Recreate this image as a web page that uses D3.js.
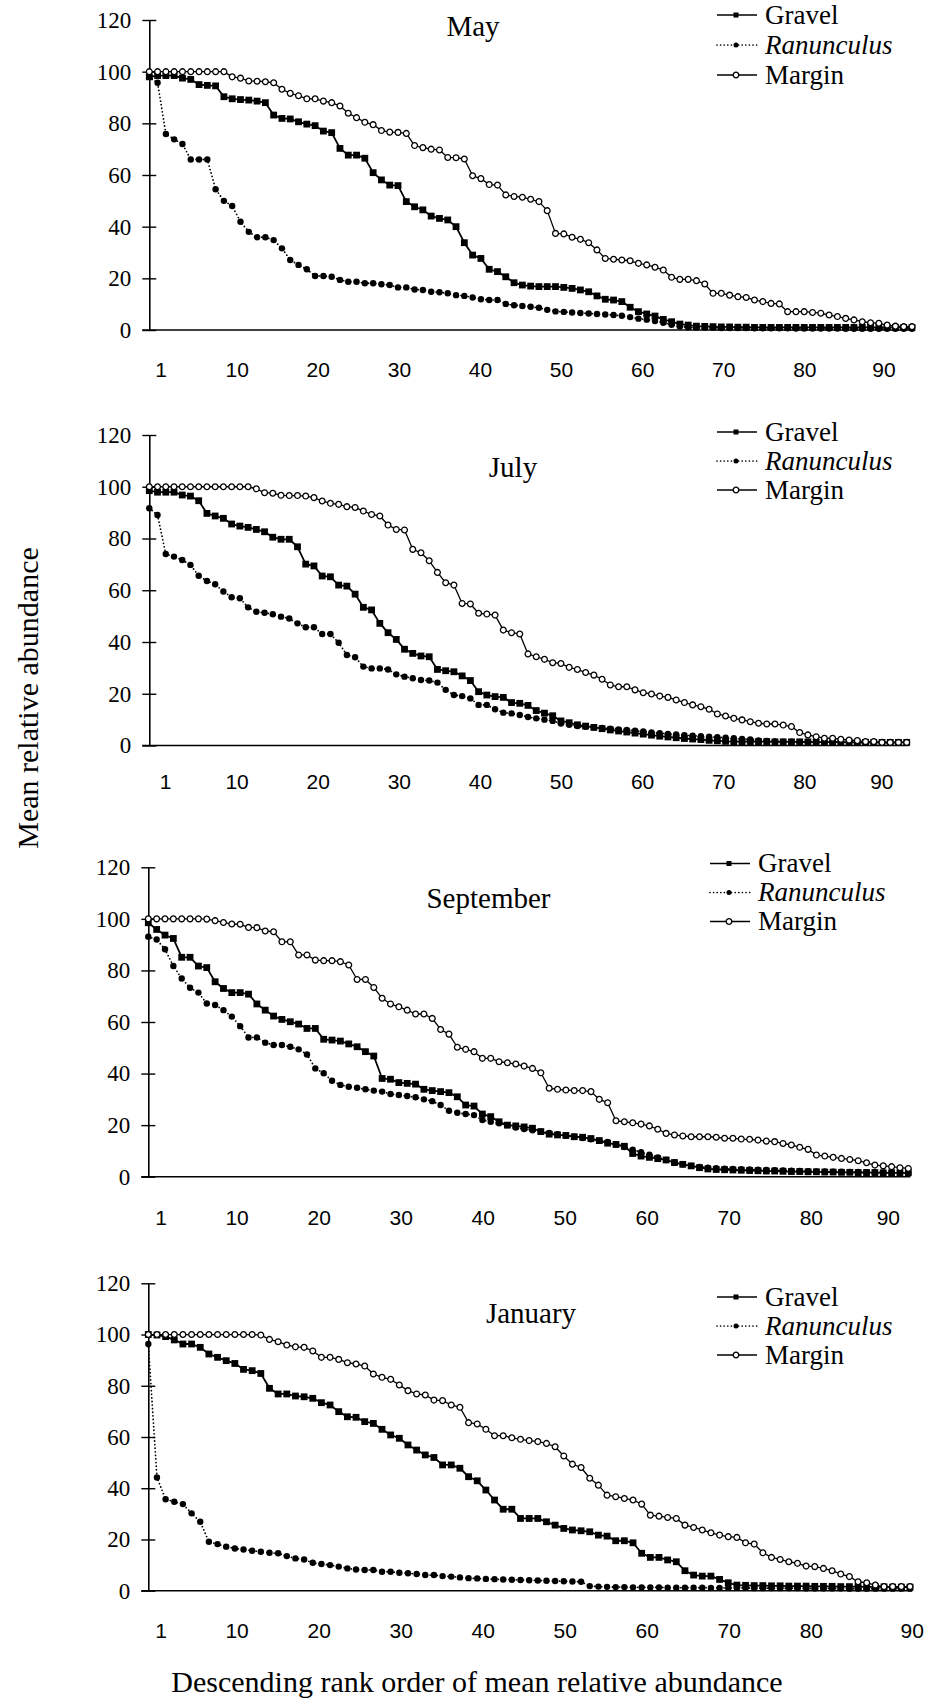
<!DOCTYPE html>
<html>
<head>
<meta charset="utf-8">
<script src="https://cdn.jsdelivr.net/npm/d3@7"></script>
<style>
  html, body { margin: 0; padding: 0; background: #fff; }
  svg { display: block; }
</style>
</head>
<body>
<svg id="chart" width="928" height="1701"></svg>
<script>
// ---- data: mean relative abundance by descending rank, per month and habitat ----
const months = ["May", "July", "September", "January"];
const seriesNames = ["Gravel", "Ranunculus", "Margin"];
const yTicks = [0, 20, 40, 60, 80, 100, 120];
const xTickLabels = [1, 10, 20, 30, 40, 50, 60, 70, 80, 90];

const mayGravel = [98, 98.5, 98.5, 98.5, 97.5, 97, 95, 94.7, 94.5, 90.3, 89.5, 89.2, 89, 88.6, 88, 83.2, 81.9, 81.7, 80.6, 79.7,
  79.1, 77, 76.4, 70.3, 67.7, 67.7, 66.5, 60.9, 58.1, 56.1, 55.9, 49.7, 47.7, 46.5, 44.1, 43.2, 42.6, 40, 33.8, 29,
  27.7, 23.5, 22.6, 20.6, 18.3, 17.4, 17, 16.8, 16.8, 16.8, 16.5, 16.1, 15.5, 14.8, 13.2, 11.9, 11.6, 11, 8.8, 7.1,
  6.2, 5.4, 4.1, 3.2, 2.3, 1.9, 1.5, 1.4, 1.3, 1.2, 1.2, 1.1, 1.1, 1, 1, 1, 1, 1, 1, 1,
  1, 1, 1, 1, 1, 1, 1, 1, 1, 1, 1, 1, 1];
const mayRanunculus = [98, 95.7, 75.9, 73.8, 72, 66, 66, 66, 54.5, 50, 48, 41.9, 38, 35.9, 35.9, 34.8, 31.6, 27.1, 25.2, 23.5,
  20.9, 20.9, 20.6, 19.4, 18.7, 18.7, 18.1, 18.1, 17.7, 17.4, 16.5, 16.5, 15.7, 15.5, 14.8, 14.6, 14.2, 13.5, 13.2, 12.6,
  11.9, 11.6, 11.6, 10.1, 9.6, 9.3, 9, 8.6, 7.8, 7.2, 7, 6.8, 6.6, 6.4, 6.2, 6, 5.8, 5.5, 5, 4.4,
  4, 3.5, 2.8, 2, 1.4, 1, 0.9, 0.9, 0.9, 0.8, 0.8, 0.8, 0.8, 0.7, 0.7, 0.7, 0.7, 0.7, 0.6, 0.6,
  0.6, 0.6, 0.6, 0.6, 0.5, 0.5, 0.5, 0.5, 0.5, 0.5, 0.5, 0.5, 0.5];
const mayMargin = [100, 100, 100, 100, 100, 100, 100, 100, 100, 100, 98, 97.5, 96.4, 96.3, 96.1, 95.7, 93.2, 91.6, 90.7, 89.5,
  89.5, 88.6, 88, 86.7, 83.9, 82.2, 80.4, 79.5, 77.2, 76.6, 76.5, 76.1, 71.4, 70.6, 70, 69.7, 66.8, 66.7, 66.2, 59.7,
  58.6, 56.3, 56.1, 52.3, 51.7, 51.4, 50.6, 49.7, 46.2, 37.4, 37.2, 35.9, 35.1, 33.8, 31, 27.7, 27.4, 27.1, 26.8, 25.8,
  25.2, 24.3, 23.2, 20.4, 19.6, 19.6, 19.1, 17.8, 14.2, 14.2, 13.5, 12.9, 12.6, 11.6, 11, 10.3, 10.1, 7.1, 7.1, 7.1,
  6.8, 6.5, 5.8, 5.2, 4.5, 3.9, 3.2, 2.8, 2.6, 1.9, 1.5, 1.3, 1.3];

const julyGravel = [98.5, 97.9, 97.9, 97.9, 96.8, 96.4, 94.6, 89.7, 88.7, 87.8, 85.6, 84.8, 84.3, 83.5, 82.6, 80.5, 79.7, 79.7, 76.8, 70.1,
  69.4, 65.5, 65.2, 62, 61.6, 58.5, 53.4, 52.4, 47.2, 43.6, 41, 37.2, 35.6, 34.6, 34.3, 29.4, 28.9, 28.5, 26.9, 25.1,
  20.8, 19.5, 18.9, 18.6, 16.6, 16.3, 15.5, 13.5, 12.5, 11.5, 9.5, 8.8, 8, 7.5, 7, 6.5, 6, 5.6, 5.2, 4.8,
  4.4, 4, 3.6, 3.3, 3, 2.7, 2.5, 2.3, 2, 1.8, 1.6, 1.5, 1.5, 1.5, 1.5, 1.5, 1.4, 1.4, 1.4, 1.4,
  1.4, 1.3, 1.3, 1.3, 1.3, 1.3, 1.2, 1.2, 1.2, 1.2, 1.2, 1.2, 1.2];
const julyRanunculus = [91.7, 89.1, 74, 73, 71.7, 69.8, 65.6, 63.6, 62.3, 59.5, 57.3, 56.9, 53.4, 51.7, 51.3, 50.7, 49.8, 49.1, 47.2, 45.7,
  45.7, 43.1, 43.1, 39.7, 35, 34.1, 30.5, 29.8, 29.8, 29.4, 27.5, 26.6, 26, 25.3, 25.1, 24.3, 21.5, 19.5, 19.1, 18.2,
  15.7, 15.7, 14, 12.7, 12.4, 11.8, 11, 10.5, 10, 9.5, 8.5, 8, 7.5, 7.2, 7, 6.8, 6.5, 6.2, 6, 5.7,
  5.4, 5, 4.8, 4.5, 4.3, 4, 3.8, 3.6, 3.4, 3.2, 3, 2.8, 2.5, 2.3, 2, 1.8, 1.6, 1.5, 1.5, 1.4,
  1.4, 1.3, 1.3, 1.3, 1.2, 1.2, 1.2, 1.1, 1.1, 1.1, 1, 1, 1];
const julyMargin = [100, 100, 100, 100, 100, 100, 100, 100, 100, 100, 100, 100, 100, 99.2, 97.7, 97.5, 96.7, 96.6, 96.6, 96.4,
  95.8, 94.5, 93.6, 93.2, 92.3, 92, 90.6, 89.3, 88.7, 85.2, 83.5, 83.3, 75.8, 74.5, 71.4, 66.9, 62.9, 62, 54.9, 54.7,
  51.1, 50.8, 50.4, 44.6, 43.6, 43.1, 35.4, 34.3, 33.3, 32, 31.7, 30.2, 29.4, 28.2, 27.2, 25.6, 23.4, 22.7, 22.7, 21.5,
  20.4, 19.9, 19.1, 18.6, 17.6, 16.6, 15.7, 15, 14, 12.2, 11.4, 10.5, 9.9, 9.2, 8.6, 8.3, 8.3, 7.9, 7.3, 5,
  4.1, 3.4, 2.8, 2.8, 2.4, 2.1, 1.9, 1.5, 1.5, 1.2, 1.2, 1.2, 1.2];

const septGravel = [98.5, 95.9, 93.7, 92.4, 85.1, 85.1, 81.7, 81.1, 75.6, 73, 71.4, 71.4, 70.8, 67, 64.6, 62.3, 61, 60.1, 59.2, 57.5,
  57.5, 53.3, 53, 52.6, 51.5, 50.4, 48.5, 46.8, 38.1, 37.8, 36.5, 36.2, 35.9, 33.9, 33.4, 33, 32.6, 31, 27.8, 27.4,
  24.3, 23.3, 21.3, 20, 19.7, 19.3, 18.8, 17.5, 16.5, 16.2, 16, 15.5, 15.3, 14.8, 14, 13, 12.5, 11.8, 9, 8,
  7.5, 7, 6.5, 5.5, 4.8, 4.2, 3.5, 3, 2.8, 2.7, 2.6, 2.5, 2.4, 2.3, 2.2, 2.2, 2.1, 2, 2, 1.9,
  1.9, 1.8, 1.8, 1.7, 1.7, 1.6, 1.6, 1.6, 1.5, 1.5, 1.5, 1.5];
const septRanunculus = [93.1, 92, 88.2, 81.7, 76.9, 73.3, 71.4, 67.2, 66.6, 64.6, 62.1, 58.4, 54, 54, 52, 51.1, 51.1, 50.4, 49.4, 47.4,
  42, 40.1, 37.2, 35.6, 34.9, 34.5, 33.9, 33.4, 33, 32.1, 31.7, 31.3, 30.8, 30, 29.3, 27.8, 25.6, 24.8, 24.3, 23.9,
  22, 21.3, 20.7, 20, 19.1, 18.5, 18, 17.5, 17, 16.5, 16, 15.5, 15, 14.5, 14, 13.5, 12.5, 11.5, 10.5, 9.5,
  8.5, 7.5, 6.5, 5.5, 4.8, 4.2, 3.8, 3.5, 3.3, 3.1, 3, 2.9, 2.8, 2.7, 2.6, 2.5, 2.4, 2.3, 2.2, 2.1,
  2, 2, 1.9, 1.9, 1.8, 1.8, 1.7, 1.7, 1.6, 1.6, 1.5, 1.5];
const septMargin = [100, 100, 100, 100, 100, 100, 100, 99.9, 99.3, 98.6, 98, 97.9, 96.7, 96.6, 95.3, 95, 91.1, 91.1, 86, 86,
  84, 83.8, 83.8, 83.4, 82.1, 76.5, 76.5, 73.4, 69.2, 67, 65.9, 64.6, 63.1, 63.1, 61.4, 57.1, 55.3, 50.2, 49.4, 48.5,
  45.9, 45.9, 44.6, 44.2, 43.7, 42.9, 42, 40.3, 34.3, 33.9, 33.6, 33.4, 33.4, 33, 30, 28.7, 21.7, 21.3, 20.9, 20.4,
  19.7, 18.4, 16.8, 16.2, 15.8, 15.5, 15.5, 15.5, 15.3, 14.9, 14.9, 14.6, 14.5, 14.2, 13.8, 13.6, 12.9, 12.3, 11.4, 10.6,
  8.4, 8, 7.5, 7.1, 6.7, 6.2, 5.4, 4.5, 4.2, 3.9, 3.5, 3.2];

const janGravel = [100, 99.8, 99.2, 97.9, 96.3, 96.3, 95, 92.4, 91.1, 89.8, 88.7, 86.4, 85.9, 84.8, 79, 76.8, 76.8, 76, 75.7, 75.1,
  73.4, 72.5, 69.9, 67.9, 67.7, 66, 65.3, 63, 60.8, 59.5, 56.9, 54.9, 53, 52, 49.1, 49.1, 47.8, 44.5, 42.9, 39.3,
  35.4, 31.8, 31.8, 28.2, 28.2, 28.2, 26.9, 25.6, 24.3, 23.7, 23.4, 23, 21.7, 21.3, 19.5, 19.5, 18.7, 14.6, 13, 13,
  12, 11.3, 7.8, 6.1, 5.7, 5.7, 4.4, 3.1, 2.2, 2.1, 2, 2, 1.9, 1.9, 1.8, 1.8, 1.8, 1.7, 1.7, 1.7,
  1.6, 1.6, 1.6, 1.5, 1.5, 1.5, 1.4, 1.4, 1.4];
const janRanunculus = [96.3, 44.2, 35.7, 34.7, 33.8, 30.2, 26.9, 19.1, 18.2, 17.2, 16.5, 16.1, 15.6, 15.2, 14.8, 14.6, 13.5, 12.6, 12.2, 10.9,
  10.4, 10, 9.4, 8.7, 8.3, 8.1, 8.1, 7.4, 7.4, 7, 6.8, 6.5, 6.1, 6.1, 5.7, 5.5, 5.2, 4.9, 4.8, 4.6,
  4.5, 4.4, 4.3, 4.2, 4.1, 4, 3.9, 3.8, 3.7, 3.6, 3.5, 1.8, 1.6, 1.5, 1.4, 1.4, 1.3, 1.3, 1.3, 1.3,
  1.2, 1.2, 1.2, 1.2, 1.2, 1.1, 1.1, 1.1, 1.1, 1.1, 1, 1, 1, 1, 1, 1, 0.9, 0.9, 0.9, 0.9,
  0.9, 0.8, 0.8, 0.8, 0.8, 0.8, 0.8, 0.8, 0.8];
const janMargin = [100, 100, 100, 100, 100, 100, 100, 100, 100, 100, 100, 100, 100, 99.8, 98.1, 97.2, 95.9, 95.2, 95, 93.6,
  91.1, 91.1, 90.3, 89, 88.5, 87.7, 84.6, 83.3, 82.5, 80.3, 78.1, 76.8, 76.4, 74.4, 74.2, 72.5, 71.6, 65.6, 65.1, 63,
  60.5, 60.5, 59.7, 59.1, 58.6, 58.2, 57.5, 56.2, 52.6, 49.4, 48.1, 43.9, 41.2, 37.3, 36.7, 36, 35.4, 33.8, 29.5, 29.1,
  28.6, 28.2, 25.6, 24.7, 23.7, 22.6, 21.7, 21.1, 20.8, 18.7, 18.2, 14.8, 13, 12.2, 11.3, 10.7, 9.6, 9.4, 8.7, 7.8,
  6.5, 5.5, 3.5, 3.1, 2.2, 1.6, 1.6, 1.6, 1.6];

const panelData = [
  { month: months[0], values: [mayGravel, mayRanunculus, mayMargin] },
  { month: months[1], values: [julyGravel, julyRanunculus, julyMargin] },
  { month: months[2], values: [septGravel, septRanunculus, septMargin] },
  { month: months[3], values: [janGravel, janRanunculus, janMargin] }
];

// ---- layout of the four stacked panels ----
const layout = [
  { top: 20,     bottom: 330,    left: 149.3, right: 912,   titleX: 473, titleY: 36,     legendX: 717, legendY: 15,     legendGap: 30, labelGap: 31.8, labelRange: [160.7, 236.7, 804.3, 883.5] },
  { top: 435,    bottom: 745.5,  left: 149.3, right: 906.7, titleX: 513, titleY: 476.7,  legendX: 717, legendY: 432,    legendGap: 29, labelGap: 28.5, labelRange: [165, 236.6, 804.3, 881.3] },
  { top: 867.3,  bottom: 1176.7, left: 148.3, right: 908.3, titleX: 488.5, titleY: 908.3, legendX: 710, legendY: 863.5, legendGap: 29, labelGap: 33.6, labelRange: [160.6, 236.6, 810.8, 887.8] },
  { top: 1283.3, bottom: 1590.7, left: 148.3, right: 910,   titleX: 531, titleY: 1323.3, legendX: 717, legendY: 1297,   legendGap: 29, labelGap: 32.1, labelRange: [160.6, 236.6, 810.8, 911.7] }
];

const INK = "#000";
const SERIF = "'Liberation Serif', 'Times New Roman', serif";
const SANS = "'Liberation Sans', Arial, sans-serif";

const svg = d3.select("#chart");

// marker drawers for each series
function drawMarker(sel, kind, size) {
  if (kind === 0) {
    sel.append("rect")
      .attr("x", -size).attr("y", -size)
      .attr("width", size * 2).attr("height", size * 2)
      .attr("fill", INK);
  } else if (kind === 1) {
    sel.append("circle").attr("r", size).attr("fill", INK);
  } else {
    sel.append("circle").attr("r", size)
      .attr("fill", "#fff").attr("stroke", INK).attr("stroke-width", 1.3);
  }
}
const lineStyle = [
  { width: 1.8, dash: null },
  { width: 1.8, dash: "0 3.6" },
  { width: 1.3, dash: null }
];
const markerSize = [3.4, 3.2, 2.9];
const legendMarkerSize = [2.5, 2.5, 2.8];
const drawOrder = [1, 0, 2];

panelData.forEach((panel, i) => {
  const L = layout[i];
  const n = panel.values[2].length;
  const x = d3.scaleLinear().domain([1, n]).range([L.left, L.right]);
  const y = d3.scaleLinear().domain([0, 120]).range([L.bottom, L.top]);
  const g = svg.append("g").attr("class", "panel");

  // y axis with ticks crossing the axis line
  g.append("g")
    .attr("transform", `translate(${L.left},0)`)
    .call(d3.axisLeft(y).tickValues(yTicks).tickSizeInner(7).tickSizeOuter(0).tickPadding(11))
    .call(a => {
      a.attr("font-family", SERIF).attr("font-size", 23);
      a.select(".domain").attr("stroke", INK).attr("stroke-width", 1.6);
      a.selectAll(".tick line").attr("x1", 7).attr("stroke", INK).attr("stroke-width", 1.4);
      a.selectAll(".tick text").attr("fill", INK);
    });

  // x axis baseline
  g.append("line")
    .attr("x1", L.left - 7).attr("x2", x(n) + 2)
    .attr("y1", y(0)).attr("y2", y(0))
    .attr("stroke", INK).attr("stroke-width", 1.6);

  // rank labels
  const labelScale = d3.scaleLinear().domain([1, 10, 80, 90]).range(L.labelRange);
  g.append("g")
    .attr("transform", `translate(0,${L.bottom + L.labelGap})`)
    .call(d3.axisBottom(labelScale).tickValues(xTickLabels).tickSize(0).tickPadding(0))
    .call(a => {
      a.select(".domain").remove();
      a.attr("font-family", SANS).attr("font-size", 21);
      a.selectAll(".tick text").attr("fill", INK);
    });

  // series lines and markers
  drawOrder.forEach(s => {
    const vals = panel.values[s];
    const line = d3.line().x((d, k) => x(k + 1)).y(d => y(d));
    const path = g.append("path")
      .datum(vals)
      .attr("d", line)
      .attr("fill", "none")
      .attr("stroke", INK)
      .attr("stroke-width", lineStyle[s].width)
      .attr("stroke-linejoin", "round");
    if (lineStyle[s].dash) {
      path.attr("stroke-dasharray", lineStyle[s].dash).attr("stroke-linecap", "round");
    }
    g.append("g").selectAll("g")
      .data(vals)
      .join("g")
      .attr("transform", (d, k) => `translate(${x(k + 1)},${y(d)})`)
      .each(function () { drawMarker(d3.select(this), s, markerSize[s]); });
  });

  // month title
  g.append("text")
    .attr("x", L.titleX).attr("y", L.titleY)
    .attr("text-anchor", "middle")
    .attr("font-family", SERIF).attr("font-size", 29)
    .attr("fill", INK)
    .text(panel.month);

  // legend
  const lg = g.append("g").attr("transform", `translate(${L.legendX},${L.legendY})`);
  seriesNames.forEach((name, s) => {
    const row = lg.append("g").attr("transform", `translate(0,${s * L.legendGap})`);
    const seg = row.append("line")
      .attr("x1", 0).attr("x2", 40).attr("y1", 0).attr("y2", 0)
      .attr("stroke", INK).attr("stroke-width", s === 1 ? 1.7 : 1.4);
    if (s === 1) seg.attr("stroke-dasharray", "0 3.6").attr("stroke-linecap", "round");
    drawMarker(row.append("g").attr("transform", "translate(19,0)"), s, legendMarkerSize[s]);
    row.append("text")
      .attr("x", 48).attr("y", 8.5)
      .attr("font-family", SERIF).attr("font-size", 27)
      .attr("font-style", s === 1 ? "italic" : "normal")
      .attr("fill", INK)
      .text(name);
  });
});

// shared axis titles
svg.append("text")
  .attr("transform", "translate(38,698) rotate(-90)")
  .attr("text-anchor", "middle")
  .attr("font-family", SERIF).attr("font-size", 30)
  .attr("fill", INK)
  .text("Mean relative abundance");

svg.append("text")
  .attr("x", 477).attr("y", 1692)
  .attr("text-anchor", "middle")
  .attr("font-family", SERIF).attr("font-size", 30)
  .attr("fill", INK)
  .text("Descending rank order of mean relative abundance");
</script>
</body>
</html>
